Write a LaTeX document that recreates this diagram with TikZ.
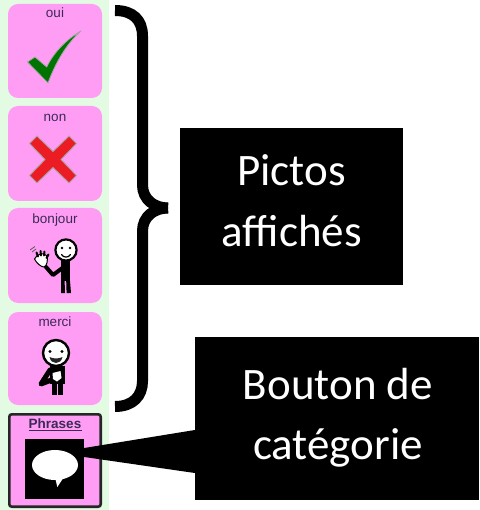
\documentclass[tikz,border=0pt]{standalone}
\usepackage{fontspec}
\setmainfont{Liberation Sans}
\newfontfamily\carlito{Carlito}
\definecolor{tilepink}{HTML}{FF9DF5}
\definecolor{panelgreen}{HTML}{E3FBE3}
\definecolor{labelink}{HTML}{3A2A55}
\definecolor{crossred}{HTML}{EC1C24}
\tikzset{
  tile/.style={fill=tilepink,rounded corners=10pt},
  ticklabel/.style={anchor=base,inner sep=0pt,text=labelink,font=\fontsize{13.5}{13.5}\selectfont},
  blackbox/.style={fill=black,draw=none,inner sep=0pt},
  bigtext/.style={anchor=base,inner sep=0pt,text=white,font=\carlito\fontsize{45}{45}\selectfont},
  brace/.style={line width=11pt,line cap=butt},
  figline/.style={draw=black,line cap=round,line join=round},
}
\begin{document}
\begin{tikzpicture}[x=1pt,y=-1pt]
\useasboundingbox (0,0) rectangle (479,510);
\fill[white] (0,0) rectangle (479,510);
\fill[panelgreen] (0,0) rectangle (109,510);
% tiles
\fill[tile] (8,4) rectangle (102,98);
\fill[tile] (8,106) rectangle (102,201);
\fill[tile] (8,208) rectangle (102,303);
\fill[tile] (8,312) rectangle (102,405);
\node[ticklabel] (oui) at (55,18) {oui};
\node[ticklabel] (non) at (55,122) {non};
\node[ticklabel] (bonjour) at (55,223) {bonjour};
\node[ticklabel] (merci) at (55,326) {merci};
% check mark
\filldraw[fill=green!45!black,draw=black!35,line width=.8pt,line join=round]
  (81,31) .. controls (66,44) and (55,64) .. (48,83)
  -- (27.5,62) -- (35,57) -- (46.7,67)
  .. controls (54,52) and (67,39) .. cycle;
% cross
\filldraw[fill=crossred,draw=black!35,line width=.9pt,line join=round,shift={(53,159.5)}]
  (-16,-23.5) -- (0,-8) -- (16,-23.5) -- (23.5,-16) -- (8,0) -- (23.5,16) -- (16,23.5)
  -- (0,8) -- (-16,23.5) -- (-23.5,16) -- (-8,0) -- (-23.5,-16) -- cycle;
% bonjour figure
\begin{scope}
  \fill[black] (61,259) rectangle (70,281);
  \fill[black] (61,281) -- (64.6,281) -- (65,293) -- (61,293) -- cycle;
  \fill[black] (66.2,281) -- (70,281) -- (71,293) -- (66.6,293) -- cycle;
  \draw[figline,line width=4pt] (65,266) -- (53,275) -- (46,267);
  \filldraw[fill=white,draw=black,line width=2.2pt] (66,250) circle (10.6);
  \fill[black] (62,248) circle (1.3) (70,248) circle (1.3);
  \draw[line width=1.2pt,line cap=round] (61.5,254.5) .. controls (63.5,258) and (68.5,258) .. (70.5,254.5);
  \filldraw[fill=white,draw=black,line width=1pt] (34.5,259) .. controls (37,253.5) and (44,252) .. (47,256)
     .. controls (48,260) and (47,266) .. (44,267) .. controls (41,267) and (36.5,263) .. cycle;
  \draw[line width=2pt,line cap=round] (38,256.5) -- (36.5,252.5) (41,255.5) -- (40.5,251) (44,255.5) -- (44.5,251.5) (46.5,258) -- (48.5,254.5);
  \draw[black!65,line width=.8pt] (30,250) -- (35,246.5) (32,252) -- (36,249);
\end{scope}
% merci figure
\begin{scope}
  \fill[black] (50,366) rectangle (65,384);
  \fill[black] (52,384) rectangle (56.6,394.5);
  \fill[black] (58,384) rectangle (63,394.5);
  \draw[figline,line width=5pt] (50,370) -- (41,384) -- (54,379);
  \filldraw[fill=white,draw=black,line width=2.4pt] (56,353) circle (13);
  \fill[black] (50,351.5) circle (1.6) (62,351.5) circle (1.6);
  \fill[black!85] (49.5,357) .. controls (51,365) and (61,365) .. (62.5,357) .. controls (58,359) and (54,359) .. cycle;
  \fill[white] (52.5,373) -- (60.5,371) -- (61.5,378) -- (57,381.5) -- (53,379) -- cycle;
\end{scope}
% category button
\filldraw[fill=tilepink,draw=black!85,line width=2.6pt,rounded corners=2.5pt] (9.3,414.3) rectangle (100.7,506.7);
\node[ticklabel,font=\fontsize{13.5}{13.5}\selectfont\bfseries] (phrases) at (55,428) {Phrases};
\draw[labelink,line width=1pt] (phrases.base west)++(0,2.4) -- ++(53,0);
\node[blackbox,minimum width=59pt,minimum height=60pt] (icon) at (54.5,469) {};
\fill[white] (55,465) ellipse (23 and 15);
\fill[white] (55,477) -- (64,477) -- (57.3,487) -- cycle;
% brace
\draw[brace] (115,10.5) .. controls (133,10.5) and (142.5,20) .. (142.5,36) -- (142.5,185)
   .. controls (142.5,200) and (155,208) .. (168,208);
\draw[brace] (168,208) .. controls (155,208) and (142.5,216) .. (142.5,231) -- (142.5,381)
   .. controls (142.5,396) and (133,406.5) .. (115,406.5);
% callouts
\node[blackbox,minimum width=223pt,minimum height=157pt] (pictos) at (291.5,206.5) {};
\node[blackbox,minimum width=284pt,minimum height=163pt] (bouton) at (337,418.5) {};
\coordinate (wedgeA) at (bouton.west |- 0,430);
\coordinate (wedgeB) at (bouton.west |- 0,473);
\coordinate (tipA) at (icon.east |- 0,448);
\coordinate (tipB) at (icon.east |- 0,457);
\fill[black] (wedgeA) -- (tipA) -- (tipB) -- (wedgeB) -- cycle;
\node[bigtext] (t1) at (291.5,186) {Pictos};
\node[bigtext] (t2) at (291.5,246) {affichés};
\node[bigtext] (t3) at (338,399) {Bouton de};
\node[bigtext] (t4) at (338,459) {catégorie};
\end{tikzpicture}
\end{document}
